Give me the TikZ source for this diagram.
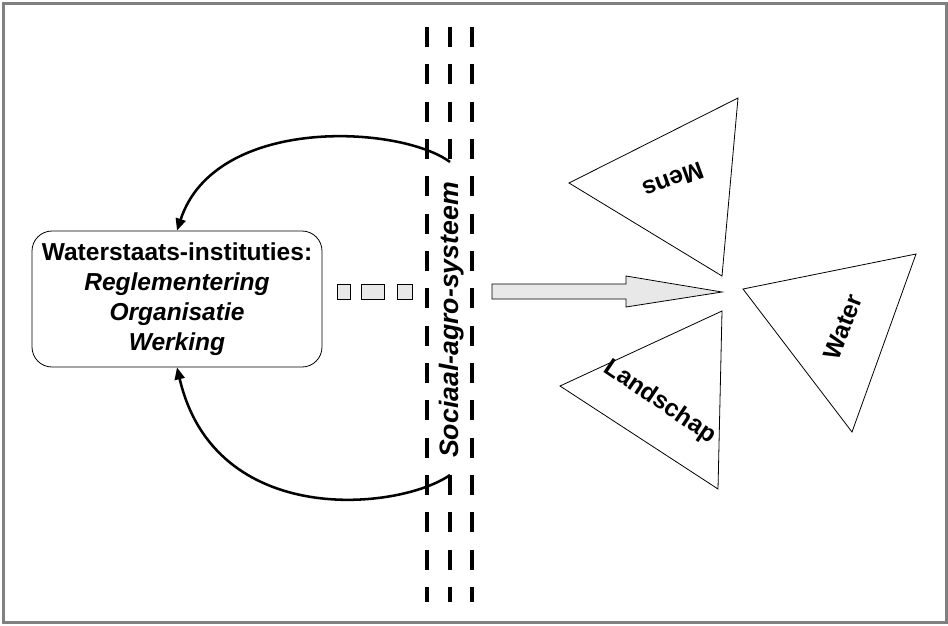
\documentclass[tikz,border=0pt]{standalone}
\usepackage{fontspec}
\setmainfont{Liberation Sans}
\usetikzlibrary{arrows.meta}
\begin{document}
\begin{tikzpicture}[x=0.75pt,y=-0.75pt,
  lbl/.style={font=\fontsize{18.4}{22.5}\selectfont\bfseries, inner sep=1pt},
  vdash/.style={line width=3pt, dash pattern=on 15pt off 13pt},
  tri/.style={draw=black, line width=0.6pt, fill=white},
  flow/.style={draw=black, line width=0.6pt, fill=black!9},
  link/.style={line width=1.9pt, -{Triangle[length=9pt,width=7.5pt]}}]
\useasboundingbox (0,0) rectangle (948,625);
\draw[line width=2.25pt, draw=black!50] (3.5,3.5) rectangle (946.5,622.5);
% flow arrow pieces
\draw[flow] (337,284) rectangle (350,299);
\draw[flow] (361,284) rectangle (384,299);
\draw[flow] (397,284) rectangle (412,299);
\draw[flow] (492,284) -- (626,284) -- (626,276) -- (722,292) -- (626,307) -- (626,299) -- (492,299) -- cycle;
% vertical dashed lines
\draw[vdash] (450,27) -- (450,602);
\node[lbl, fill=white, rotate=90, inner ysep=2pt, inner xsep=9pt, font=\fontsize{20}{24}\selectfont\bfseries\itshape] (sas) at (452,320) {Sociaal-agro-systeem};
\draw[vdash] (427,27) -- (427,602);
\draw[vdash] (472,27) -- (472,602);
% institution box
\node[lbl, draw=black, line width=0.6pt, rounded corners=15pt, minimum width=217.5pt, minimum height=102pt, align=center] (inst) at (177,299)
  {Waterstaats-instituties:\\ \textit{Reglementering}\\ \textit{Organisatie}\\ \textit{Werking}};
\coordinate (topstart) at (450,162);
\coordinate (botstart) at (450,475);
\draw[link] (topstart) .. controls (400,125) and (215,115) .. (inst.north);
\draw[link] (botstart) .. controls (400,510) and (215,530) .. (inst.south);
% triangles
\draw[tri] (738,98) -- (569,183) -- (722,276) -- cycle;
\draw[tri] (722,311) -- (560,386) -- (718,489) -- cycle;
\draw[tri] (916,254) -- (743,289) -- (852,432) -- cycle;
\node[lbl, rotate=200] (mens) at (673,180) {Mens};
\node[lbl, rotate=69] (water) at (843,327) {Water};
\node[lbl, rotate=-34] (land) at (660,402) {Landschap};
\end{tikzpicture}
\end{document}
